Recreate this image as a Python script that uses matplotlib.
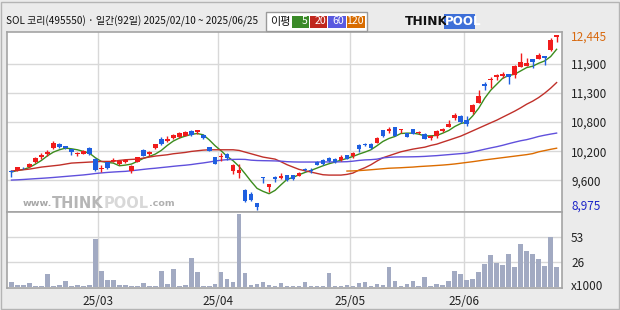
import numpy as np
import pandas as pd
import matplotlib
matplotlib.use("Agg")
import matplotlib.pyplot as plt
from matplotlib.patches import Rectangle
from matplotlib.transforms import offset_copy

plt.rcParams['font.family'] = ['Noto Sans CJK KR', 'DejaVu Sans']

TITLE = "SOL 코리(495550) · 일간(92일) 2025/02/10 ~ 2025/06/25"
START, END = "2025-02-10", "2025-06-25"
HOLIDAYS = ["2025-03-03", "2025-05-01", "2025-05-05", "2025-05-06", "2025-06-03", "2025-06-06"]

opens = [9725, 9760, 9805, 9818, 9910, 10022, 10075, 10187, 10280, 10240,
         10168, 10069, 10075, 10201, 9983, 9778, 9910, 9937, 9871, 9917,
         9745, 9917, 10161, 10075, 10187, 10372, 10326, 10392, 10405, 10432,
         10531, 10504, 10445, 10214, 10016, 10009, 10082, 9739, 9699, 9369,
         9290, 9105, 9620, 9422, 9626, 9593, 9659, 9652, 9646, 9771,
         9765, 9918, 9963, 10003, 9983, 9949, 10056, 10029, 10260, 10266,
         10280, 10293, 10557, 10531, 10610, 10544, 10491, 10571, 10495, 10480,
         10392, 10432, 10537, 10616, 10801, 10834, 10755, 10907, 11092, 11461,
         11547, 11600, 11620, 11659, 11646, 11804, 11824, 11956, 11963, 12016,
         12134, 12405]
highs = [9752, 9825, 9820, 9890, 10010, 10095, 10148, 10326, 10290, 10245,
         10175, 10115, 10148, 10207, 9989, 9864, 9923, 9996, 9937, 9976,
         9851, 10016, 10168, 10135, 10273, 10412, 10438, 10471, 10517, 10537,
         10544, 10557, 10478, 10220, 10022, 10102, 10088, 9884, 9877, 9375,
         9316, 9110, 9626, 9488, 9632, 9706, 9666, 9658, 9712, 9805,
         9791, 9937, 9970, 10009, 9990, 10056, 10062, 10121, 10266, 10300,
         10286, 10405, 10563, 10610, 10616, 10583, 10497, 10577, 10540, 10486,
         10445, 10544, 10590, 10755, 10887, 10860, 10834, 11072, 11342, 11514,
         11600, 11666, 11712, 11665, 11844, 12075, 11983, 11962, 12075, 12022,
         12372, 12445]
lows = [9613, 9750, 9780, 9812, 9905, 9983, 10029, 10181, 10200, 10180,
        10062, 10029, 10069, 10062, 9745, 9712, 9785, 9910, 9865, 9897,
        9692, 9910, 10036, 10042, 10181, 10247, 10306, 10379, 10399, 10425,
        10438, 10465, 10372, 10135, 9870, 9943, 9963, 9686, 9607, 9131,
        9151, 8975, 9494, 9323, 9514, 9587, 9547, 9553, 9640, 9731,
        9700, 9851, 9864, 9923, 9904, 9943, 9970, 9989, 10121, 10227,
        10181, 10287, 10405, 10500, 10438, 10500, 10405, 10465, 10470, 10365,
        10359, 10400, 10520, 10610, 10742, 10700, 10636, 10880, 11085, 11349,
        11382, 11540, 11580, 11474, 11593, 11798, 11818, 11791, 11957, 11851,
        12115, 12306]
closes = [9715, 9820, 9790, 9884, 10003, 10055, 10115, 10286, 10207, 10187,
          10121, 10088, 10135, 10069, 9765, 9798, 9791, 9963, 9930, 9956,
          9838, 10009, 10042, 10108, 10267, 10280, 10366, 10451, 10484, 10504,
          10451, 10550, 10399, 10141, 9877, 10042, 9989, 9851, 9758, 9138,
          9171, 9019, 9593, 9481, 9580, 9646, 9554, 9587, 9706, 9759,
          9731, 9864, 9870, 9930, 9910, 10009, 9977, 10102, 10181, 10254,
          10194, 10399, 10432, 10577, 10444, 10577, 10412, 10472, 10510, 10370,
          10438, 10537, 10577, 10682, 10847, 10709, 10669, 11052, 11230, 11428,
          11573, 11639, 11666, 11600, 11818, 11903, 11884, 11910, 12042, 11976,
          12339, 12438]

ma5 = [9719, 9752, 9772, 9811, 9877, 9950, 10042, 10115, 10161, 10194,
       10181, 10161, 10128, 10095, 10003, 9930, 9910, 9897, 9844, 9857,
       9877, 9930, 9989, 10029, 10075, 10148, 10247, 10333, 10392, 10432,
       10465, 10484, 10458, 10359, 10240, 10141, 10029, 9943, 9831, 9686,
       9534, 9395, 9336, 9290, 9356, 9468, 9575, 9613, 9666, 9712,
       9752, 9798, 9844, 9884, 9917, 9956, 9989, 10029, 10075, 10115,
       10161, 10240, 10326, 10385, 10425, 10484, 10491, 10491, 10471, 10435,
       10438, 10445, 10491, 10544, 10623, 10682, 10709, 10834, 10986, 11184,
       11342, 11461, 11580, 11633, 11659, 11725, 11791, 11818, 11877, 11923,
       12009, 12154]
ma20 = [9739, 9752, 9765, 9778, 9798, 9818, 9831, 9844, 9857, 9877,
        9897, 9904, 9910, 9917, 9923, 9930, 9930, 9930, 9950, 9963,
        9970, 9976, 9996, 10016, 10036, 10049, 10062, 10082, 10095, 10108,
        10128, 10141, 10154, 10161, 10161, 10161, 10161, 10161, 10148, 10115,
        10082, 10049, 10016, 9996, 9976, 9923, 9865, 9818, 9772, 9745,
        9719, 9692, 9666, 9659, 9659, 9659, 9673, 9699, 9758, 9805,
        9864, 9937, 10003, 10042, 10082, 10121, 10148, 10174, 10194, 10213,
        10247, 10273, 10313, 10352, 10392, 10432, 10484, 10537, 10590, 10643,
        10696, 10748, 10808, 10867, 10927, 10993, 11065, 11125, 11197, 11283,
        11382, 11494]
ma60 = [9560, 9565, 9572, 9580, 9588, 9595, 9603, 9612, 9622, 9632,
        9642, 9652, 9662, 9675, 9690, 9702, 9712, 9720, 9727, 9733,
        9745, 9758, 9772, 9785, 9795, 9808, 9820, 9833, 9845, 9855,
        9868, 9885, 9900, 9918, 9938, 9955, 9965, 9970, 9972, 9970,
        9955, 9948, 9945, 9943, 9940, 9935, 9925, 9920, 9918, 9918,
        9918, 9918, 9920, 9920, 9920, 9922, 9925, 9935, 9950, 9960,
        9965, 9975, 10000, 10012, 10018, 10020, 10020, 10022, 10025, 10030,
        10038, 10045, 10055, 10065, 10075, 10085, 10095, 10118, 10145, 10172,
        10198, 10222, 10250, 10282, 10312, 10340, 10362, 10392, 10425, 10450,
        10472, 10492]
ma120 = [np.nan] * 56 + [
        9739, 9742, 9748, 9756, 9765, 9775, 9785, 9795, 9800, 9805,
        9812, 9818, 9828, 9835, 9842, 9850, 9858, 9868, 9880, 9895,
        9910, 9925, 9942, 9960, 9975, 9990, 10005, 10020, 10035, 10050,
        10065, 10085, 10120, 10145, 10170, 10192]

volumes = [4.9, 1.8, 1.8, 3.9, 0.7, 0.7, 13.4, 0.7, 1.8, 6.0,
           1.0, 1.8, 0.7, 1.8, 50.2, 16.5, 7.1, 7.1, 1.8, 1.8,
           0.7, 0.7, 3.9, 0.7, 0.7, 16.5, 3.2, 18.6, 0.7, 1.8,
           30.2, 15.5, 0.7, 0.7, 2.8, 15.5, 8.1, 4.9, 76.5, 14.4,
           1.8, 2.8, 4.9, 1.8, 0.7, 3.9, 0.7, 0.7, 0.7, 4.9,
           0.7, 0.7, 0.7, 14.4, 0.7, 0.7, 1.8, 0.7, 3.9, 4.9,
           0.7, 2.8, 1.8, 20.7, 6.0, 0.7, 2.8, 6.0, 0.7, 10.2,
           0.7, 2.8, 1.8, 6.0, 16.5, 13.4, 7.1, 8.1, 15.5, 23.9,
           33.4, 24.9, 22.8, 34.4, 20.7, 44.9, 37.6, 34.4, 29.2, 21.8,
           52.3, 20.7]

MA_PERIODS = ["5", "20", "60", "120"]
MA_COLORS = ["#3c8c1e", "#c0302a", "#6050dc", "#dc6c00"]
BOX_COLORS = ["#3a8a28", "#c0281e", "#5a5ae0", "#d86c00"]
UP, DOWN = "#f01c1c", "#1e5fe0"
VOL_COLOR = "#a2aac2"
GRID = "#d8d8d8"
FRAME = "#a4a4a4"
BG = "#ebebeb"

W, H = 620, 310


def fbox(l, t, r, b):
    return [l / W, 1 - b / H, (r - l) / W, (b - t) / H]


def fx(px):
    return px / W


def fy(py):
    return 1 - py / H


def text_run(fig, x0, y0, pieces):
    # lay out text pieces one after another, left to right
    r = fig.canvas.get_renderer()
    dx = 0
    for s, kw in pieces:
        t = fig.text(x0, y0, s, transform=offset_copy(fig.transFigure, fig=fig, x=dx, y=0, units="dots"),
                     va="center", ha="left", **kw)
        dx += t.get_window_extent(r).width


days = pd.bdate_range(START, END)
days = days[~days.isin(pd.to_datetime(HOLIDAYS))]
x = np.arange(len(days))
month_pos = [i - 0.5 for i in range(1, len(days)) if days[i].month != days[i - 1].month]
month_lab = [days[int(p + 0.5)].strftime("%y/%m") for p in month_pos]

o, h, l, c = map(np.array, (opens, highs, lows, closes))
lo, hi = l.min(), h.max()

fig = plt.figure(figsize=(6.2, 3.1), dpi=100, facecolor=BG)
ax = fig.add_axes(fbox(7, 32, 562, 212))
axv = fig.add_axes(fbox(7, 212, 562, 288), sharex=ax)

# price panel
colors = np.where(c >= o, UP, DOWN)
ax.vlines(x, l, h, colors=colors, lw=1, zorder=4)
ax.bar(x, np.maximum(np.abs(c - o), 18), bottom=np.minimum(o, c), width=0.78,
       color=colors, lw=0, zorder=4)
for ma, col in zip([ma5, ma20, ma60, ma120], MA_COLORS):
    ax.plot(x, ma, color=col, lw=1.0, zorder=3)

step = (hi - lo) / 6
grid_vals = [lo + step * k for k in range(1, 6)]
ax.set_ylim(lo - 48, hi + 52)
ax.set_xlim(-0.75, len(x) - 0.1)
ax.set_yticks(grid_vals)
ax.set_yticklabels([f"{int(np.ceil(v / 100) * 100):,}" for v in grid_vals])
ax.set_xticks(month_pos)
ax.tick_params(axis="x", length=0, labelbottom=False)
ax.yaxis.tick_right()
ax.tick_params(axis="y", length=0, pad=6.5, labelsize=8.5, labelcolor="#222222")
ax.grid(True, color=GRID, lw=1, zorder=0)
ax.annotate(f"{hi:,}", xy=(1, hi), xycoords=("axes fraction", "data"),
            xytext=(9, -2.5), textcoords="offset pixels", va="center", ha="left",
            fontsize=8.5, color="#d86a10", annotation_clip=False)
ax.annotate(f"{lo:,}", xy=(1, lo), xycoords=("axes fraction", "data"),
            xytext=(9, 3), textcoords="offset pixels", va="center", ha="left",
            fontsize=8.5, color="#1c24c8", annotation_clip=False)

# volume panel
vol_top = max(volumes) * 1.03
axv.bar(x, volumes, width=0.78, color=VOL_COLOR, lw=0, zorder=3)
axv.set_ylim(-1.4, vol_top)
axv.set_yticks([vol_top / 3, vol_top * 2 / 3])
axv.set_yticklabels([f"{round(vol_top / 3)}", f"{round(vol_top * 2 / 3)}"])
axv.yaxis.tick_right()
axv.tick_params(axis="y", length=0, pad=6.5, labelsize=8.5, labelcolor="#222222")
axv.set_xticks(month_pos)
axv.set_xticklabels(month_lab)
axv.tick_params(axis="x", length=0, pad=5, labelsize=8.5, labelcolor="#222222")
axv.grid(True, color=GRID, lw=1, zorder=0)
axv.annotate("x1000", xy=(1, 0), xycoords="axes fraction", xytext=(9, 2),
             textcoords="offset pixels", va="center", ha="left", fontsize=8.5,
             color="#222222", annotation_clip=False)

for a in (ax, axv):
    a.set_facecolor("white")
    for s in a.spines.values():
        s.set_color(FRAME)
        s.set_linewidth(1.2)

# watermark inside the price panel
wm = dict(family="DejaVu Sans", fontweight="bold", zorder=1)
text_run(fig, fx(23), fy(203), [
    ("www.", dict(fontsize=6.8, color="#a8a8a8", **wm)),
    ("THINK", dict(fontsize=10.5, color="#b6b6b6", **wm)),
    ("POOL", dict(fontsize=10.5, color="#d8d8d8", **wm)),
    (".com", dict(fontsize=6.8, color="#b0b0b0", **wm)),
])

# header
fig.text(fx(6), fy(21.5), TITLE, fontsize=7.2, color="#111111", va="center", ha="left")
fig.patches.append(Rectangle((fx(266), fy(30.5)), fx(101), 18.5 / H, transform=fig.transFigure,
                             facecolor="white", edgecolor="#9a9a9a", lw=1))
fig.text(fx(270), fy(21.5), "이평", fontsize=8, color="#111111", va="center", ha="left")
box_left = [291.5, 309.5, 328, 346.5]
box_right = [308.5, 327, 345.5, 364.5]
for bl, br, bc, lab in zip(box_left, box_right, BOX_COLORS, MA_PERIODS):
    fig.patches.append(Rectangle((fx(bl), fy(27.5)), fx(br - bl), 11.5 / H,
                                 transform=fig.transFigure, facecolor=bc, lw=0))
    fig.text(fx(br - 1), fy(21.5), lab, fontsize=7.6, color="white", va="center", ha="right")

# logo
fig.patches.append(Rectangle((fx(444), fy(28.5)), fx(31), 14 / H, transform=fig.transFigure,
                             facecolor="#3d6fd8", lw=0))
fig.text(fx(405), fy(21.5), "THINK", fontsize=8.8, fontweight="bold", color="#111111",
         va="center", ha="left", family="DejaVu Sans")
fig.text(fx(445), fy(21.5), "POOL", fontsize=8.6, fontweight="bold", color="white",
         va="center", ha="left", family="DejaVu Sans")

# outer frame
fig.patches.append(Rectangle((0.5 / W, 1.5 / H), 618 / W, 307 / H, transform=fig.transFigure,
                             facecolor="none", edgecolor="#b4b4b4", lw=1))

fig.savefig("out.png", dpi=100, facecolor=BG)
